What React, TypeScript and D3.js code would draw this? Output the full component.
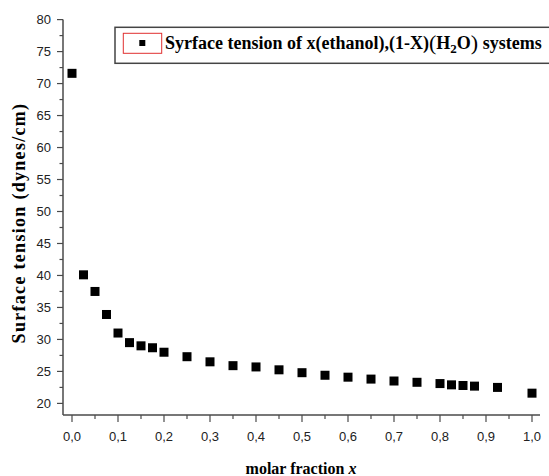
import React from "react";
import * as d3 from "d3";

// Molar fraction of ethanol and measured surface tension (dynes/cm)
const molarFraction = [
  0.0, 0.025, 0.05, 0.075, 0.1, 0.125, 0.15, 0.175, 0.2, 0.25, 0.3, 0.35, 0.4,
  0.45, 0.5, 0.55, 0.6, 0.65, 0.7, 0.75, 0.8, 0.825, 0.85, 0.875, 0.925, 1.0,
];
const surfaceTension = [
  71.6, 40.1, 37.5, 33.9, 31.0, 29.5, 29.0, 28.7, 28.0, 27.3, 26.5, 25.9, 25.7,
  25.25, 24.8, 24.4, 24.1, 23.8, 23.5, 23.3, 23.1, 22.9, 22.8, 22.7, 22.5, 21.6,
];
const xTicks = [0, 0.1, 0.2, 0.3, 0.4, 0.5, 0.6, 0.7, 0.8, 0.9, 1.0];
const yTicks = [20, 25, 30, 35, 40, 45, 50, 55, 60, 65, 70, 75, 80];

const W = 549;
const H = 476;

export default function App() {
  const x = d3.scaleLinear().domain([0, 1]).range([72, 532]);
  const y = d3.scaleLinear().domain([20, 80]).range([403.4, 19.6]);
  const axisLeft = 63;
  const axisBottom = 415;
  const xEnd = 540;

  const xMinor = d3.range(0.05, 1.0, 0.1);
  const yMinor = d3.range(22.5, 80, 5);

  const axisColor = "#4a4a4a";
  const labelFont = "'Liberation Sans', Arial, sans-serif";
  const serif = "'Liberation Serif', 'Times New Roman', serif";

  const fmt = (v: number) => d3.format(".1f")(v).replace(".", ",");
  const pts = molarFraction.map((m, i) => ({ m, s: surfaceTension[i] }));
  const ms = 9;

  return (
    <svg
      width={W}
      height={H}
      style={{ position: "absolute", left: 0, top: 0, background: "#fff" }}
    >
      {/* axes lines */}
      <line x1={axisLeft} x2={axisLeft} y1={y(80)} y2={axisBottom} stroke={axisColor} strokeWidth={1.5} />
      <line x1={axisLeft} x2={xEnd} y1={axisBottom} y2={axisBottom} stroke={axisColor} strokeWidth={1.5} />

      {/* y ticks */}
      {yTicks.map((t) => (
        <g key={"y" + t}>
          <line x1={axisLeft - 6} x2={axisLeft} y1={y(t)} y2={y(t)} stroke={axisColor} strokeWidth={1.2} />
          <text
            x={axisLeft - 12}
            y={y(t)}
            dy="0.35em"
            textAnchor="end"
            fontFamily={labelFont}
            fontSize={13}
            fill="#222"
          >
            {t}
          </text>
        </g>
      ))}
      {yMinor.map((t) => (
        <line key={"ym" + t} x1={axisLeft - 3.5} x2={axisLeft} y1={y(t)} y2={y(t)} stroke={axisColor} strokeWidth={1.2} />
      ))}

      {/* x ticks */}
      {xTicks.map((t) => (
        <g key={"x" + t}>
          <line x1={x(t)} x2={x(t)} y1={axisBottom} y2={axisBottom + 7} stroke={axisColor} strokeWidth={1.2} />
          <text
            x={x(t)}
            y={axisBottom + 26}
            textAnchor="middle"
            fontFamily={labelFont}
            fontSize={13}
            fill="#222"
          >
            {fmt(t)}
          </text>
        </g>
      ))}
      {xMinor.map((t) => (
        <line key={"xm" + t} x1={x(t)} x2={x(t)} y1={axisBottom} y2={axisBottom + 4} stroke={axisColor} strokeWidth={1.2} />
      ))}

      {/* data */}
      {pts.map((p, i) => (
        <rect
          key={i}
          x={x(p.m) - ms / 2}
          y={y(p.s) - ms / 2}
          width={ms}
          height={ms}
          fill="#000"
        />
      ))}

      {/* axis titles */}
      <text
        x={301}
        y={474}
        textAnchor="middle"
        fontFamily={serif}
        fontWeight="bold"
        fontSize={16}
        fill="#000"
      >
        molar fraction <tspan fontStyle="italic">x</tspan>
      </text>
      <text
        transform="translate(25,223) rotate(-90)"
        textAnchor="middle"
        fontFamily={serif}
        fontWeight="bold"
        fontSize={18}
        letterSpacing={1.3}
        fill="#000"
      >
        Surface tension (dynes/cm)
      </text>

      {/* legend */}
      <rect x={115} y={27.3} width={440} height={36} fill="#fff" stroke="#444" strokeWidth={1.5} />
      <rect x={123.3} y={33.3} width={38.4} height={20} fill="none" stroke="#e03030" strokeWidth={1} />
      <rect x={139.3} y={40} width={6} height={6} fill="#000" />
      <text x={165} y={48.5} fontFamily={serif} fontWeight="bold" fontSize={18} fill="#000">
        Syrface tension of x(ethanol),(1-X)
        <tspan fontSize={22} fontWeight="normal" dy={1.5}>(</tspan>
        <tspan dy={-1.5}>H</tspan>
        <tspan fontSize={13} dy={4.5}>2</tspan>
        <tspan dy={-4.5}>O</tspan>
        <tspan fontSize={22} fontWeight="normal" dy={1.5}>)</tspan>
        <tspan dy={-1.5}> systems</tspan>
      </text>
    </svg>
  );
}
